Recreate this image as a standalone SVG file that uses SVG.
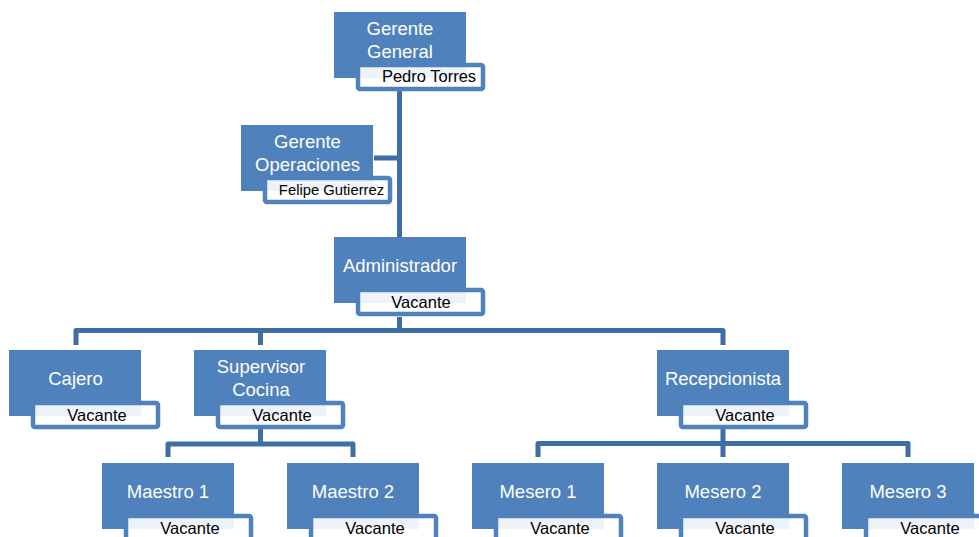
<svg xmlns="http://www.w3.org/2000/svg" width="979" height="537" viewBox="0 0 979 537">
<style>
.box{fill:#4F81BD}
.lbl{fill:#FFFFFF;fill-opacity:0.9;stroke:#4F81BD;stroke-width:4.5}
.t{font-family:"Liberation Sans",Arial,sans-serif;font-size:18.5px;fill:#FFFFFF;text-anchor:middle}
.s{font-family:"Liberation Sans",Arial,sans-serif;font-size:16.5px;fill:#000000;text-anchor:middle}
.c{fill:none;stroke:#3F6DA5;stroke-width:5;stroke-linejoin:round}
</style>
<rect width="979" height="537" fill="#FFFFFF"/>
<g id="connectors">
<path class="c" d="M399.5 91 V237"/>
<path class="c" d="M374 158 H399.5"/>
<path class="c" d="M399.5 317 V330.5"/>
<path class="c" d="M76 345 V330.5 H723 V345"/>
<path class="c" d="M260.5 330.5 V345"/>
<path class="c" d="M260.5 429 V444"/>
<path class="c" d="M168 457 V444 H353 V457"/>
<path class="c" d="M723 429 V443.5"/>
<path class="c" d="M538 457 V443.5 H908 V457"/>
<path class="c" d="M723 443.5 V457"/>
</g>
<g id="gerente-general">
<rect class="box" x="334" y="12" width="132" height="66"/>
<text class="t" x="400" y="35">Gerente</text>
<text class="t" x="400" y="57.5">General</text>
<rect class="lbl" x="358" y="65" width="125" height="24" rx="2"/>
<text class="s" x="429" y="82">Pedro Torres</text>
</g>
<g id="gerente-operaciones">
<rect class="box" x="241" y="125" width="132" height="66"/>
<text class="t" x="307.5" y="148">Gerente</text>
<text class="t" x="307.5" y="170.5">Operaciones</text>
<rect class="lbl" x="265" y="178" width="125" height="24" rx="2"/>
<text class="s" x="331.5" y="195" style="font-size:14.8px">Felipe Gutierrez</text>
</g>
<g id="administrador">
<rect class="box" x="334" y="237" width="132" height="66"/>
<text class="t" x="400" y="272">Administrador</text>
<rect class="lbl" x="358" y="290" width="125" height="24" rx="2"/>
<text class="s" x="421" y="308">Vacante</text>
</g>
<g id="cajero">
<rect class="box" x="9" y="350" width="132" height="66"/>
<text class="t" x="75.5" y="385">Cajero</text>
<rect class="lbl" x="33" y="403" width="125" height="24" rx="2"/>
<text class="s" x="97" y="421">Vacante</text>
</g>
<g id="supervisor-cocina">
<rect class="box" x="194" y="350" width="132" height="66"/>
<text class="t" x="261" y="373">Supervisor</text>
<text class="t" x="261" y="395.5">Cocina</text>
<rect class="lbl" x="218" y="403" width="125" height="24" rx="2"/>
<text class="s" x="282" y="421">Vacante</text>
</g>
<g id="recepcionista">
<rect class="box" x="657" y="350" width="132" height="66"/>
<text class="t" x="723" y="385">Recepcionista</text>
<rect class="lbl" x="681" y="403" width="125" height="24" rx="2"/>
<text class="s" x="745" y="421">Vacante</text>
</g>
<g id="maestro-1">
<rect class="box" x="102" y="463" width="132" height="66"/>
<text class="t" x="168" y="498">Maestro 1</text>
<rect class="lbl" x="126" y="516" width="125" height="24" rx="2"/>
<text class="s" x="190" y="534">Vacante</text>
</g>
<g id="maestro-2">
<rect class="box" x="287" y="463" width="132" height="66"/>
<text class="t" x="353" y="498">Maestro 2</text>
<rect class="lbl" x="311" y="516" width="125" height="24" rx="2"/>
<text class="s" x="375" y="534">Vacante</text>
</g>
<g id="mesero-1">
<rect class="box" x="472" y="463" width="132" height="66"/>
<text class="t" x="538" y="498">Mesero 1</text>
<rect class="lbl" x="496" y="516" width="125" height="24" rx="2"/>
<text class="s" x="560" y="534">Vacante</text>
</g>
<g id="mesero-2">
<rect class="box" x="657" y="463" width="132" height="66"/>
<text class="t" x="723" y="498">Mesero 2</text>
<rect class="lbl" x="681" y="516" width="125" height="24" rx="2"/>
<text class="s" x="745" y="534">Vacante</text>
</g>
<g id="mesero-3">
<rect class="box" x="842" y="463" width="132" height="66"/>
<text class="t" x="908" y="498">Mesero 3</text>
<rect class="lbl" x="866" y="516" width="125" height="24" rx="2"/>
<text class="s" x="930" y="534">Vacante</text>
</g>
</svg>
